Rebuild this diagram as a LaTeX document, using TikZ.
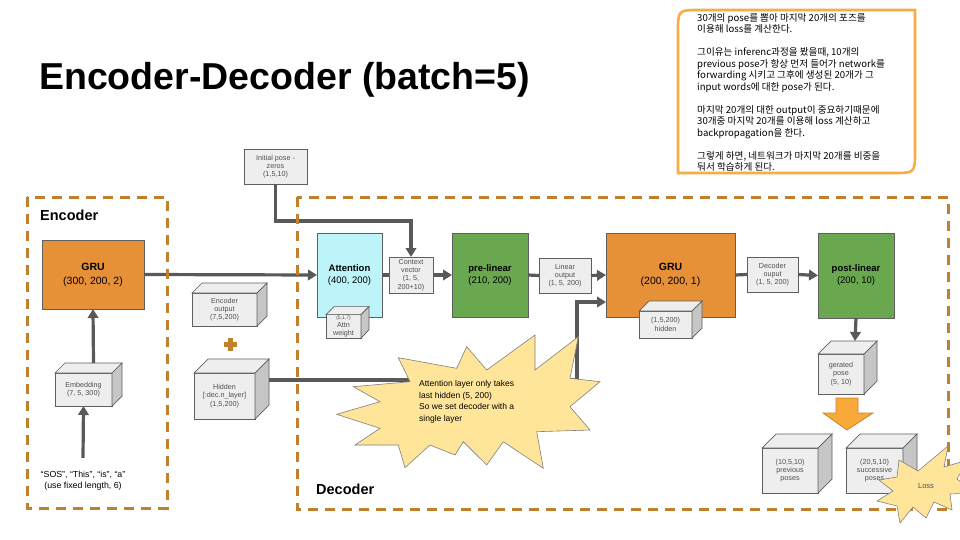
\documentclass[tikz,border=0pt]{standalone}
\usepackage{fontspec}
\setmainfont{Liberation Sans}
\newfontfamily\krfont{Noto Sans CJK KR}
\usetikzlibrary{arrows.meta,positioning}

\definecolor{framebrown}{HTML}{C0802C}
\definecolor{gruorange}{HTML}{E69138}
\definecolor{lingreen}{HTML}{6AA84F}
\definecolor{attcyan}{HTML}{BDF4FA}
\definecolor{tagfill}{HTML}{EEEEEE}
\definecolor{cubeshade}{HTML}{C6C6C6}
\definecolor{edgegray}{HTML}{5F5F5F}
\definecolor{taggray}{HTML}{505050}
\definecolor{flowgray}{HTML}{595959}
\definecolor{burstfill}{HTML}{FFE599}
\definecolor{burstedge}{HTML}{808080}
\definecolor{noteorange}{HTML}{F9AB45}
\definecolor{blockorange}{HTML}{F9A83A}

\tikzset{
  blockbox/.style={draw=edgegray, line width=0.7pt, align=center, inner sep=1pt, outer sep=0pt},
  grubox/.style={blockbox, fill=gruorange, font=\fontsize{10.5}{14}\selectfont},
  linbox/.style={blockbox, fill=lingreen, font=\fontsize{9.5}{12}\selectfont},
  attbox/.style={blockbox, fill=attcyan, font=\fontsize{9.5}{12}\selectfont},
  tagbox/.style={blockbox, fill=tagfill, text=taggray, font=\fontsize{7.2}{8.3}\selectfont},
  cubefront/.style={tagbox},
  cubetop/.style={draw=edgegray, line width=0.7pt, fill=tagfill},
  cubeside/.style={draw=edgegray, line width=0.7pt, fill=cubeshade},
  flow/.style={draw=flowgray, line width=3.2pt, -{Triangle[length=9pt,width=10.5pt]}},
  link/.style={draw=flowgray, line width=3.2pt},
  stagebox/.style={draw=framebrown, line width=3pt, dash pattern=on 10pt off 7pt},
  burstshape/.style={draw=burstedge, line width=0.6pt, fill=burstfill},
  stagelabel/.style={anchor=west, inner sep=0pt, font=\bfseries\fontsize{14.5}{16}\selectfont},
}

% cube: name, position, width, height, depth, text
\newcommand{\cubenode}[6]{%
  \node[cubefront, minimum width=#3pt, minimum height=#4pt] (#1) at (#2) {#6};
  \draw[cubetop] (#1.north west) -- ++(#5,-#5) -- ++(#3,0) -- (#1.north east) -- cycle;
  \draw[cubeside] (#1.north east) -- ++(#5,-#5) -- ++(0,#4) -- (#1.south east) -- cycle;
}

\begin{document}
\begin{tikzpicture}[x=1pt,y=-1pt]
\fill[white] (0,0) rectangle (960,540);
\useasboundingbox (0,0) rectangle (960,540);

% title and note
\node[anchor=west, inner sep=0pt, font=\bfseries\fontsize{37.5}{42}\selectfont] (title) at (39,80) {Encoder-Decoder (batch=5)};
\draw[noteorange, line width=2.6pt, fill=white] (678,173) -- (678,32) .. controls (678,10) .. (700,10)
  -- (915,10) -- (915,151) .. controls (915,173) .. (893,173) -- cycle;
\node[anchor=north west, align=left, inner sep=0pt, font=\krfont\fontsize{9.6}{11.5}\selectfont] (note) at (697,13)
  {30개의 pose를 뽑아 마지막 20개의 포즈를\\
   이용해 loss를 계산한다.\\[11.5pt]
   그이유는 inferenc과정을 봤을때, 10개의\\
   previous pose가 항상 먼저 들어가 network를\\
   forwarding 시키고 그후에 생성된 20개가 그\\
   input words에 대한 pose가 된다.\\[11.5pt]
   마지막 20개의 대한 output이 중요하기때문에\\
   30개중 마지막 20개를 이용해 loss 계산하고\\
   backpropagation을 한다.\\[11.5pt]
   그렇게 하면, 네트워크가 마지막 20개를 비중을\\
   둬서 학습하게 된다.};

% encoder
\node[grubox, minimum width=102pt, minimum height=69pt] (encgru) at (93,274.5) {\textbf{GRU}\\(300, 200, 2)};
\cubenode{embed}{83.5,389.5}{57}{33}{10}{Embedding\\(7, 5, 300)}
\node[align=center, font=\fontsize{8.8}{11}\selectfont] (inwords) at (83,481)
  {``SOS'', ``This'', ``is'', ``a''\\(use fixed length, 6)};
\draw[flow] ([yshift=10pt]inwords.north) -- (embed.south);
\draw[flow] ([xshift=10pt,yshift=10pt]embed.north) -- (encgru.south);

% states handed over
\cubenode{encout}{224.5,309.5}{65}{33}{10}{Encoder\\output\\(7,5,200)}
\fill[framebrown] (228,338) rectangle (232.5,351);
\fill[framebrown] (223.5,342.3) rectangle (237,346.8);
\cubenode{hiddenc}{224.5,396}{61}{46}{14}{Hidden\\{[:dec.n\_layer]}\\(1,5,200)}
\node[blockbox, fill=tagfill, text=taggray, font=\fontsize{7.2}{8.3}\selectfont,
  minimum width=63pt, minimum height=35pt] (initpose) at (275.5,166.5) {Initial pose -\\zeros\\(1,5,10)};

% decoder
\node[attbox, minimum width=65pt, minimum height=84pt] (attention) at (349.5,275) {\textbf{Attention}\\(400, 200)};
\cubenode{attnw}{343.5,326.5}{35}{23}{8}{\fontsize{5}{6.3}\selectfont(5,1,7)\\Attn\\weight}
\node[tagbox, minimum width=44pt, minimum height=36pt] (ctxvec) at (411,275) {Context\\vector\\(1, 5,\\200+10)};
\node[linbox, minimum width=76pt, minimum height=84pt] (prelin) at (490,275) {\textbf{pre-linear}\\(210, 200)};
\node[tagbox, minimum width=52pt, minimum height=35pt] (linout) at (565,275.5) {Linear\\output\\(1, 5, 200)};
\node[grubox, minimum width=129pt, minimum height=84pt] (decgru) at (670.5,275) {\textbf{GRU}\\(200, 200, 1)};
\cubenode{dechid}{665.5,324.5}{53}{27}{10}{(1,5,200)\\hidden}
\node[tagbox, minimum width=51pt, minimum height=35pt] (decout) at (772.5,274.5) {Decoder\\ouput\\(1, 5, 200)};
\node[linbox, minimum width=76pt, minimum height=85pt] (postlin) at (856,275.5) {\textbf{post-linear}\\(200, 10)};
\cubenode{genpose}{841,374}{46}{40}{13}{gerated\\pose\\(5, 10)}
\cubenode{prevposes}{790,470.5}{56}{45}{14}{(10,5,10)\\previous\\poses}
\cubenode{succposes}{874.5,470.5}{57}{45}{14}{(20,5,10)\\successive\\poses}

% connectors
\coordinate (hidturn) at (577,380);
\draw[flow] (encgru.east) -- (attention.west);
\draw[flow] (initpose.south) |- ([yshift=36pt]ctxvec.north) -- (ctxvec.north);
\draw[link] (attention.east) -- (ctxvec.west);
\draw[flow] (ctxvec.east) -- (prelin.west);
\draw[link] (prelin.east) -- (linout.west);
\draw[flow] (linout.east) -- (decgru.west);
\draw[flow] ([xshift=14pt,yshift=16pt]hiddenc.east) -| (hidturn) |- ([yshift=-27pt]decgru.west);
\draw[link] (decgru.east) -- (decout.west);
\draw[flow] (decout.east) -- (postlin.west);
\draw[flow] (postlin.south) -- ([xshift=14pt,yshift=13pt]genpose.north);
\draw[blockorange!80!black, line width=0.8pt, fill=blockorange] (836,398) -- (858,398) -- (858,413) -- (873,413)
  -- (847,430) -- (823,413) -- (836,413) -- cycle;

% stages
\draw[stagebox] (27,197) rectangle (167,508);
\node[stagelabel] (enclabel) at (40,215) {Encoder};
\draw[stagebox] (297,197) rectangle (948,509);
\node[stagelabel] (declabel) at (316,489) {Decoder};

% remarks
\draw[burstshape] (398.3,357.7) -- (456.7,368.3) -- (466.7,346.7) -- (486.7,370) -- (535,335) -- (535,370)
  -- (578.3,336.7) -- (570,378.3) -- (600,381.7) -- (570,406.7) -- (590,430) -- (536.7,431.7)
  -- (543.3,468.3) -- (503.3,441.7) -- (486.7,465) -- (463.3,441.7) -- (455,455) -- (430,445)
  -- (405,467.7) -- (398.3,445) -- (355,445) -- (380,428.3) -- (336.7,414.3) -- (380,401.7)
  -- (353.3,386.7) -- (410,381.7) -- cycle;
\node[anchor=north west, align=left, inner sep=0pt, font=\fontsize{8.5}{11.7}\selectfont] (burstnote) at (419,380)
  {Attention layer only takes\\last hidden  (5, 200)\\So we set decoder with a\\single layer};
\draw[burstshape] (899,460) -- (918,471) -- (948,446) -- (944,467) -- (968,460) -- (957,479) -- (975,493)
  -- (950,494) -- (952,510) -- (934,502) -- (926,518) -- (913,507) -- (900,523) -- (897,506)
  -- (877,501) -- (893,491) -- (879,480) -- (897,477) -- cycle;
\node[text=taggray, font=\fontsize{7.5}{9}\selectfont] (loss) at (926,486) {Loss};
\end{tikzpicture}
\end{document}
